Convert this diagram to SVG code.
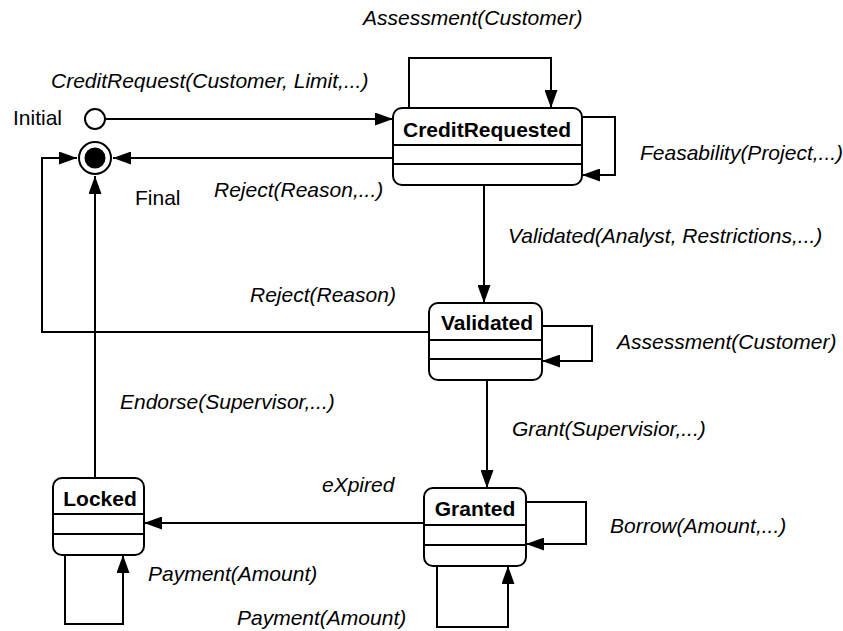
<svg xmlns="http://www.w3.org/2000/svg" width="843" height="631" viewBox="0 0 843 631">
<style>
.st{fill:#fff;stroke:#000;stroke-width:2}
.dv{stroke:#000;stroke-width:2}
.ttl{font-family:"Liberation Sans",Arial,sans-serif;font-size:21px;font-weight:bold;text-anchor:middle;fill:#000}
.lbl{font-family:"Liberation Sans",Arial,sans-serif;font-size:21px;font-style:italic;fill:#000}
.nl{font-family:"Liberation Sans",Arial,sans-serif;font-size:21px;fill:#000}
.cn{fill:none;stroke:#000;stroke-width:2;marker-end:url(#ah)}
</style>
<defs>
<marker id="ah" markerUnits="userSpaceOnUse" markerWidth="19" markerHeight="13" refX="18" refY="6.5" orient="auto">
<path d="M0,0 L18,6.5 L0,13 z" fill="#000"/>
</marker>
</defs>
<rect width="843" height="631" fill="#fff"/>
<g id="connectors">
<path class="cn" d="M106,119 H393"/>
<path class="cn" d="M409,108 V58 H551 V108"/>
<path class="cn" d="M582,117 H615 V175 H582"/>
<path class="cn" d="M393,158 H113"/>
<path class="cn" d="M484,185 V303"/>
<path class="cn" d="M429,332 H42 V158 H77"/>
<path class="cn" d="M542,326 H592 V361 H542"/>
<path class="cn" d="M487,380 V488"/>
<path class="cn" d="M526,502 H586 V544 H526"/>
<path class="cn" d="M424,523 H144"/>
<path class="cn" d="M437,566 V627 H508 V566"/>
<path class="cn" d="M95,478 V176"/>
<path class="cn" d="M65,555 V624 H123 V555"/>
</g>
<g id="initial">
<circle cx="95" cy="119" r="10" class="st"/>
<text class="nl" x="13" y="125">Initial</text>
</g>
<g id="final">
<circle cx="95" cy="158" r="16" class="st"/>
<circle cx="95" cy="158" r="10.5" fill="#000"/>
<text class="nl" x="135" y="205">Final</text>
</g>
<g id="creditRequested">
<rect x="393" y="108" width="189" height="77" rx="9" class="st"/>
<line x1="393" y1="145" x2="582" y2="145" class="dv"/>
<line x1="393" y1="164" x2="582" y2="164" class="dv"/>
<text class="ttl" x="487" y="137">CreditRequested</text>
</g>
<g id="validated">
<rect x="429" y="303" width="113" height="77" rx="9" class="st"/>
<line x1="429" y1="340" x2="542" y2="340" class="dv"/>
<line x1="429" y1="359" x2="542" y2="359" class="dv"/>
<text class="ttl" x="487" y="330">Validated</text>
</g>
<g id="granted">
<rect x="424" y="488" width="102" height="78" rx="9" class="st"/>
<line x1="424" y1="525" x2="526" y2="525" class="dv"/>
<line x1="424" y1="545" x2="526" y2="545" class="dv"/>
<text class="ttl" x="475" y="516">Granted</text>
</g>
<g id="locked">
<rect x="53" y="478" width="91" height="77" rx="9" class="st"/>
<line x1="53" y1="514" x2="144" y2="514" class="dv"/>
<line x1="53" y1="534" x2="144" y2="534" class="dv"/>
<text class="ttl" x="100" y="506">Locked</text>
</g>
<g id="labels">
<text class="lbl" x="363" y="25">Assessment(Customer)</text>
<text class="lbl" x="51" y="88">CreditRequest(Customer, Limit,...)</text>
<text class="lbl" x="214" y="197">Reject(Reason,...)</text>
<text class="lbl" x="640" y="160">Feasability(Project,...)</text>
<text class="lbl" x="508" y="243">Validated(Analyst, Restrictions,...)</text>
<text class="lbl" x="250" y="302">Reject(Reason)</text>
<text class="lbl" x="617" y="349">Assessment(Customer)</text>
<text class="lbl" x="120" y="409">Endorse(Supervisor,...)</text>
<text class="lbl" x="512" y="436">Grant(Supervisior,...)</text>
<text class="lbl" x="322" y="492">eXpired</text>
<text class="lbl" x="610" y="533">Borrow(Amount,...)</text>
<text class="lbl" x="148" y="581">Payment(Amount)</text>
<text class="lbl" x="237" y="625">Payment(Amount)</text>
</g>
</svg>
